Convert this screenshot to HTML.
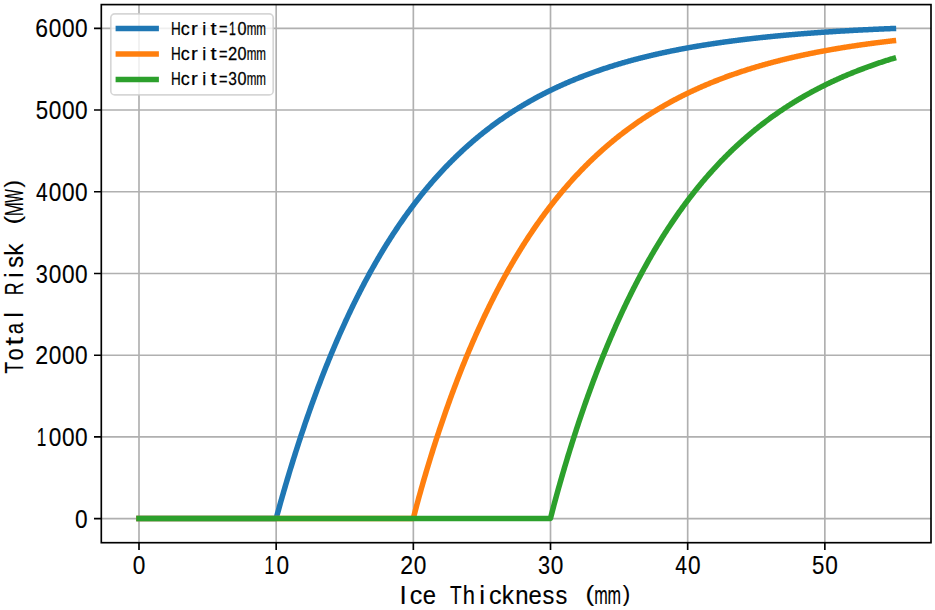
<!DOCTYPE html><html><head><meta charset="utf-8"><style>html,body{margin:0;padding:0;background:#fff;overflow:hidden;}svg{display:block;}text{font-family:"Liberation Sans",sans-serif;fill:#000;}</style></head><body>
<svg width="935" height="610" viewBox="0 0 935 610">
<rect width="935" height="610" fill="#fff"/>
<path d="M139.00 4.60V542.70M276.17 4.60V542.70M413.34 4.60V542.70M550.51 4.60V542.70M687.68 4.60V542.70M824.85 4.60V542.70M101.30 518.66H931.00M101.30 436.93H931.00M101.30 355.21H931.00M101.30 273.48H931.00M101.30 191.75H931.00M101.30 110.02H931.00M101.30 28.30H931.00" stroke="#b0b0b0" stroke-width="1.667" fill="none"/>
<polyline points="139.00,518.40 139.69,518.40 140.37,518.40 141.06,518.40 141.74,518.40 142.43,518.40 143.12,518.40 143.80,518.40 144.49,518.40 145.17,518.40 145.86,518.40 146.54,518.40 147.23,518.40 147.92,518.40 148.60,518.40 149.29,518.40 149.97,518.40 150.66,518.40 151.35,518.40 152.03,518.40 152.72,518.40 153.40,518.40 154.09,518.40 154.77,518.40 155.46,518.40 156.15,518.40 156.83,518.40 157.52,518.40 158.20,518.40 158.89,518.40 159.58,518.40 160.26,518.40 160.95,518.40 161.63,518.40 162.32,518.40 163.00,518.40 163.69,518.40 164.38,518.40 165.06,518.40 165.75,518.40 166.43,518.40 167.12,518.40 167.81,518.40 168.49,518.40 169.18,518.40 169.86,518.40 170.55,518.40 171.23,518.40 171.92,518.40 172.61,518.40 173.29,518.40 173.98,518.40 174.66,518.40 175.35,518.40 176.04,518.40 176.72,518.40 177.41,518.40 178.09,518.40 178.78,518.40 179.47,518.40 180.15,518.40 180.84,518.40 181.52,518.40 182.21,518.40 182.89,518.40 183.58,518.40 184.27,518.40 184.95,518.40 185.64,518.40 186.32,518.40 187.01,518.40 187.70,518.40 188.38,518.40 189.07,518.40 189.75,518.40 190.44,518.40 191.12,518.40 191.81,518.40 192.50,518.40 193.18,518.40 193.87,518.40 194.55,518.40 195.24,518.40 195.93,518.40 196.61,518.40 197.30,518.40 197.98,518.40 198.67,518.40 199.35,518.40 200.04,518.40 200.73,518.40 201.41,518.40 202.10,518.40 202.78,518.40 203.47,518.40 204.16,518.40 204.84,518.40 205.53,518.40 206.21,518.40 206.90,518.40 207.59,518.40 208.27,518.40 208.96,518.40 209.64,518.40 210.33,518.40 211.01,518.40 211.70,518.40 212.39,518.40 213.07,518.40 213.76,518.40 214.44,518.40 215.13,518.40 215.82,518.40 216.50,518.40 217.19,518.40 217.87,518.40 218.56,518.40 219.24,518.40 219.93,518.40 220.62,518.40 221.30,518.40 221.99,518.40 222.67,518.40 223.36,518.40 224.05,518.40 224.73,518.40 225.42,518.40 226.10,518.40 226.79,518.40 227.47,518.40 228.16,518.40 228.85,518.40 229.53,518.40 230.22,518.40 230.90,518.40 231.59,518.40 232.28,518.40 232.96,518.40 233.65,518.40 234.33,518.40 235.02,518.40 235.70,518.40 236.39,518.40 237.08,518.40 237.76,518.40 238.45,518.40 239.13,518.40 239.82,518.40 240.51,518.40 241.19,518.40 241.88,518.40 242.56,518.40 243.25,518.40 243.94,518.40 244.62,518.40 245.31,518.40 245.99,518.40 246.68,518.40 247.36,518.40 248.05,518.40 248.74,518.40 249.42,518.40 250.11,518.40 250.79,518.40 251.48,518.40 252.17,518.40 252.85,518.40 253.54,518.40 254.22,518.40 254.91,518.40 255.59,518.40 256.28,518.40 256.97,518.40 257.65,518.40 258.34,518.40 259.02,518.40 259.71,518.40 260.40,518.40 261.08,518.40 261.77,518.40 262.45,518.40 263.14,518.40 263.82,518.40 264.51,518.40 265.20,518.40 265.88,518.40 266.57,518.40 267.25,518.40 267.94,518.40 268.63,518.40 269.31,518.40 270.00,518.40 270.68,518.40 271.37,518.40 272.05,518.40 272.74,518.40 273.43,518.40 274.11,518.40 274.80,518.40 275.48,518.40 276.17,518.40 276.86,515.87 277.54,513.37 278.23,510.89 278.91,508.42 279.60,505.97 280.29,503.53 280.97,501.11 281.66,498.70 282.34,496.31 283.03,493.93 283.71,491.56 284.40,489.20 285.09,486.86 285.77,484.53 286.46,482.21 287.14,479.90 287.83,477.61 288.52,475.33 289.20,473.06 289.89,470.80 290.57,468.55 291.26,466.32 291.94,464.10 292.63,461.89 293.32,459.69 294.00,457.50 294.69,455.32 295.37,453.16 296.06,451.00 296.75,448.86 297.43,446.73 298.12,444.61 298.80,442.50 299.49,440.40 300.17,438.31 300.86,436.23 301.55,434.16 302.23,432.11 302.92,430.06 303.60,428.02 304.29,426.00 304.98,423.98 305.66,421.98 306.35,419.98 307.03,418.00 307.72,416.03 308.40,414.06 309.09,412.11 309.78,410.16 310.46,408.23 311.15,406.30 311.83,404.39 312.52,402.48 313.21,400.59 313.89,398.70 314.58,396.83 315.26,394.96 315.95,393.10 316.64,391.26 317.32,389.42 318.01,387.59 318.69,385.77 319.38,383.96 320.06,382.16 320.75,380.36 321.44,378.58 322.12,376.81 322.81,375.04 323.49,373.29 324.18,371.54 324.87,369.80 325.55,368.07 326.24,366.35 326.92,364.64 327.61,362.93 328.29,361.24 328.98,359.55 329.67,357.87 330.35,356.20 331.04,354.54 331.72,352.89 332.41,351.24 333.10,349.61 333.78,347.98 334.47,346.36 335.15,344.75 335.84,343.14 336.52,341.55 337.21,339.96 337.90,338.38 338.58,336.81 339.27,335.25 339.95,333.69 340.64,332.14 341.33,330.60 342.01,329.07 342.70,327.54 343.38,326.03 344.07,324.52 344.75,323.01 345.44,321.52 346.13,320.03 346.81,318.55 347.50,317.08 348.18,315.62 348.87,314.16 349.56,312.71 350.24,311.27 350.93,309.83 351.61,308.40 352.30,306.98 352.99,305.57 353.67,304.16 354.36,302.76 355.04,301.37 355.73,299.98 356.41,298.61 357.10,297.23 357.79,295.87 358.47,294.51 359.16,293.16 359.84,291.81 360.53,290.48 361.22,289.14 361.90,287.82 362.59,286.50 363.27,285.19 363.96,283.89 364.64,282.59 365.33,281.30 366.02,280.01 366.70,278.73 367.39,277.46 368.07,276.19 368.76,274.93 369.45,273.68 370.13,272.43 370.82,271.19 371.50,269.96 372.19,268.73 372.87,267.51 373.56,266.29 374.25,265.08 374.93,263.88 375.62,262.68 376.30,261.49 376.99,260.30 377.68,259.12 378.36,257.95 379.05,256.78 379.73,255.61 380.42,254.46 381.11,253.31 381.79,252.16 382.48,251.02 383.16,249.89 383.85,248.76 384.53,247.64 385.22,246.52 385.91,245.41 386.59,244.30 387.28,243.20 387.96,242.11 388.65,241.02 389.34,239.94 390.02,238.86 390.71,237.78 391.39,236.72 392.08,235.65 392.76,234.60 393.45,233.54 394.14,232.50 394.82,231.46 395.51,230.42 396.19,229.39 396.88,228.36 397.57,227.34 398.25,226.33 398.94,225.32 399.62,224.31 400.31,223.31 400.99,222.32 401.68,221.33 402.37,220.34 403.05,219.36 403.74,218.38 404.42,217.41 405.11,216.45 405.80,215.49 406.48,214.53 407.17,213.58 407.85,212.63 408.54,211.69 409.22,210.75 409.91,209.82 410.60,208.89 411.28,207.97 411.97,207.05 412.65,206.13 413.34,205.22 414.03,204.32 414.71,203.42 415.40,202.52 416.08,201.63 416.77,200.74 417.46,199.86 418.14,198.98 418.83,198.11 419.51,197.24 420.20,196.37 420.88,195.51 421.57,194.65 422.26,193.80 422.94,192.95 423.63,192.11 424.31,191.27 425.00,190.43 425.69,189.60 426.37,188.77 427.06,187.95 427.74,187.13 428.43,186.32 429.11,185.50 429.80,184.70 430.49,183.89 431.17,183.10 431.86,182.30 432.54,181.51 433.23,180.72 433.92,179.94 434.60,179.16 435.29,178.38 435.97,177.61 436.66,176.84 437.34,176.08 438.03,175.32 438.72,174.56 439.40,173.81 440.09,173.06 440.77,172.32 441.46,171.58 442.15,170.84 442.83,170.10 443.52,169.37 444.20,168.65 444.89,167.92 445.57,167.20 446.26,166.49 446.95,165.78 447.63,165.07 448.32,164.36 449.00,163.66 449.69,162.96 450.38,162.27 451.06,161.58 451.75,160.89 452.43,160.20 453.12,159.52 453.81,158.84 454.49,158.17 455.18,157.50 455.86,156.83 456.55,156.17 457.23,155.51 457.92,154.85 458.61,154.19 459.29,153.54 459.98,152.90 460.66,152.25 461.35,151.61 462.04,150.97 462.72,150.34 463.41,149.70 464.09,149.07 464.78,148.45 465.46,147.83 466.15,147.21 466.84,146.59 467.52,145.98 468.21,145.37 468.89,144.76 469.58,144.15 470.27,143.55 470.95,142.95 471.64,142.36 472.32,141.77 473.01,141.18 473.69,140.59 474.38,140.01 475.07,139.43 475.75,138.85 476.44,138.27 477.12,137.70 477.81,137.13 478.50,136.57 479.18,136.00 479.87,135.44 480.55,134.88 481.24,134.33 481.93,133.78 482.61,133.23 483.30,132.68 483.98,132.14 484.67,131.59 485.35,131.05 486.04,130.52 486.73,129.99 487.41,129.45 488.10,128.93 488.78,128.40 489.47,127.88 490.16,127.36 490.84,126.84 491.53,126.32 492.21,125.81 492.90,125.30 493.58,124.79 494.27,124.29 494.96,123.79 495.64,123.29 496.33,122.79 497.01,122.29 497.70,121.80 498.39,121.31 499.07,120.82 499.76,120.34 500.44,119.85 501.13,119.37 501.81,118.89 502.50,118.42 503.19,117.95 503.87,117.47 504.56,117.01 505.24,116.54 505.93,116.08 506.62,115.61 507.30,115.15 507.99,114.70 508.67,114.24 509.36,113.79 510.04,113.34 510.73,112.89 511.42,112.44 512.10,112.00 512.79,111.56 513.47,111.12 514.16,110.68 514.85,110.25 515.53,109.81 516.22,109.38 516.90,108.95 517.59,108.53 518.28,108.10 518.96,107.68 519.65,107.26 520.33,106.84 521.02,106.43 521.70,106.01 522.39,105.60 523.08,105.19 523.76,104.78 524.45,104.38 525.13,103.97 525.82,103.57 526.51,103.17 527.19,102.78 527.88,102.38 528.56,101.99 529.25,101.59 529.93,101.20 530.62,100.82 531.31,100.43 531.99,100.05 532.68,99.66 533.36,99.28 534.05,98.90 534.74,98.53 535.42,98.15 536.11,97.78 536.79,97.41 537.48,97.04 538.16,96.67 538.85,96.31 539.54,95.94 540.22,95.58 540.91,95.22 541.59,94.86 542.28,94.51 542.97,94.15 543.65,93.80 544.34,93.45 545.02,93.10 545.71,92.75 546.39,92.40 547.08,92.06 547.77,91.72 548.45,91.38 549.14,91.04 549.82,90.70 550.51,90.36 551.20,90.03 551.88,89.70 552.57,89.36 553.25,89.04 553.94,88.71 554.63,88.38 555.31,88.06 556.00,87.73 556.68,87.41 557.37,87.09 558.05,86.78 558.74,86.46 559.43,86.14 560.11,85.83 560.80,85.52 561.48,85.21 562.17,84.90 562.86,84.59 563.54,84.29 564.23,83.98 564.91,83.68 565.60,83.38 566.28,83.08 566.97,82.78 567.66,82.49 568.34,82.19 569.03,81.90 569.71,81.60 570.40,81.31 571.09,81.02 571.77,80.74 572.46,80.45 573.14,80.16 573.83,79.88 574.51,79.60 575.20,79.32 575.89,79.04 576.57,78.76 577.26,78.48 577.94,78.21 578.63,77.93 579.32,77.66 580.00,77.39 580.69,77.12 581.37,76.85 582.06,76.58 582.74,76.32 583.43,76.05 584.12,75.79 584.80,75.53 585.49,75.27 586.17,75.01 586.86,74.75 587.55,74.49 588.23,74.24 588.92,73.98 589.60,73.73 590.29,73.48 590.98,73.23 591.66,72.98 592.35,72.73 593.03,72.48 593.72,72.24 594.40,71.99 595.09,71.75 595.78,71.51 596.46,71.27 597.15,71.03 597.83,70.79 598.52,70.55 599.21,70.32 599.89,70.08 600.58,69.85 601.26,69.61 601.95,69.38 602.63,69.15 603.32,68.92 604.01,68.70 604.69,68.47 605.38,68.24 606.06,68.02 606.75,67.79 607.44,67.57 608.12,67.35 608.81,67.13 609.49,66.91 610.18,66.69 610.86,66.48 611.55,66.26 612.24,66.05 612.92,65.83 613.61,65.62 614.29,65.41 614.98,65.20 615.67,64.99 616.35,64.78 617.04,64.57 617.72,64.36 618.41,64.16 619.10,63.95 619.78,63.75 620.47,63.55 621.15,63.35 621.84,63.15 622.52,62.95 623.21,62.75 623.90,62.55 624.58,62.36 625.27,62.16 625.95,61.97 626.64,61.77 627.33,61.58 628.01,61.39 628.70,61.20 629.38,61.01 630.07,60.82 630.75,60.63 631.44,60.44 632.13,60.26 632.81,60.07 633.50,59.89 634.18,59.71 634.87,59.52 635.56,59.34 636.24,59.16 636.93,58.98 637.61,58.80 638.30,58.62 638.98,58.45 639.67,58.27 640.36,58.10 641.04,57.92 641.73,57.75 642.41,57.58 643.10,57.40 643.79,57.23 644.47,57.06 645.16,56.89 645.84,56.72 646.53,56.56 647.21,56.39 647.90,56.22 648.59,56.06 649.27,55.89 649.96,55.73 650.64,55.57 651.33,55.41 652.02,55.25 652.70,55.09 653.39,54.93 654.07,54.77 654.76,54.61 655.45,54.45 656.13,54.30 656.82,54.14 657.50,53.99 658.19,53.83 658.87,53.68 659.56,53.53 660.25,53.37 660.93,53.22 661.62,53.07 662.30,52.92 662.99,52.77 663.68,52.63 664.36,52.48 665.05,52.33 665.73,52.19 666.42,52.04 667.10,51.90 667.79,51.75 668.48,51.61 669.16,51.47 669.85,51.33 670.53,51.18 671.22,51.04 671.91,50.90 672.59,50.77 673.28,50.63 673.96,50.49 674.65,50.35 675.33,50.22 676.02,50.08 676.71,49.95 677.39,49.81 678.08,49.68 678.76,49.55 679.45,49.42 680.14,49.28 680.82,49.15 681.51,49.02 682.19,48.89 682.88,48.76 683.56,48.64 684.25,48.51 684.94,48.38 685.62,48.26 686.31,48.13 686.99,48.00 687.68,47.88 688.37,47.76 689.05,47.63 689.74,47.51 690.42,47.39 691.11,47.27 691.80,47.15 692.48,47.03 693.17,46.91 693.85,46.79 694.54,46.67 695.22,46.55 695.91,46.43 696.60,46.32 697.28,46.20 697.97,46.08 698.65,45.97 699.34,45.86 700.03,45.74 700.71,45.63 701.40,45.52 702.08,45.40 702.77,45.29 703.45,45.18 704.14,45.07 704.83,44.96 705.51,44.85 706.20,44.74 706.88,44.63 707.57,44.53 708.26,44.42 708.94,44.31 709.63,44.21 710.31,44.10 711.00,43.99 711.68,43.89 712.37,43.79 713.06,43.68 713.74,43.58 714.43,43.48 715.11,43.37 715.80,43.27 716.49,43.17 717.17,43.07 717.86,42.97 718.54,42.87 719.23,42.77 719.91,42.67 720.60,42.58 721.29,42.48 721.97,42.38 722.66,42.28 723.34,42.19 724.03,42.09 724.72,42.00 725.40,41.90 726.09,41.81 726.77,41.71 727.46,41.62 728.15,41.53 728.83,41.44 729.52,41.34 730.20,41.25 730.89,41.16 731.57,41.07 732.26,40.98 732.95,40.89 733.63,40.80 734.32,40.71 735.00,40.62 735.69,40.54 736.38,40.45 737.06,40.36 737.75,40.27 738.43,40.19 739.12,40.10 739.80,40.02 740.49,39.93 741.18,39.85 741.86,39.76 742.55,39.68 743.23,39.60 743.92,39.51 744.61,39.43 745.29,39.35 745.98,39.27 746.66,39.19 747.35,39.10 748.03,39.02 748.72,38.94 749.41,38.86 750.09,38.79 750.78,38.71 751.46,38.63 752.15,38.55 752.84,38.47 753.52,38.39 754.21,38.32 754.89,38.24 755.58,38.16 756.26,38.09 756.95,38.01 757.64,37.94 758.32,37.86 759.01,37.79 759.69,37.72 760.38,37.64 761.07,37.57 761.75,37.50 762.44,37.42 763.12,37.35 763.81,37.28 764.50,37.21 765.18,37.14 765.87,37.07 766.55,37.00 767.24,36.93 767.92,36.86 768.61,36.79 769.30,36.72 769.98,36.65 770.67,36.58 771.35,36.51 772.04,36.44 772.73,36.38 773.41,36.31 774.10,36.24 774.78,36.18 775.47,36.11 776.15,36.05 776.84,35.98 777.53,35.91 778.21,35.85 778.90,35.79 779.58,35.72 780.27,35.66 780.96,35.59 781.64,35.53 782.33,35.47 783.01,35.41 783.70,35.34 784.38,35.28 785.07,35.22 785.76,35.16 786.44,35.10 787.13,35.04 787.81,34.98 788.50,34.92 789.19,34.86 789.87,34.80 790.56,34.74 791.24,34.68 791.93,34.62 792.62,34.56 793.30,34.50 793.99,34.45 794.67,34.39 795.36,34.33 796.04,34.28 796.73,34.22 797.42,34.16 798.10,34.11 798.79,34.05 799.47,33.99 800.16,33.94 800.85,33.88 801.53,33.83 802.22,33.78 802.90,33.72 803.59,33.67 804.27,33.61 804.96,33.56 805.65,33.51 806.33,33.45 807.02,33.40 807.70,33.35 808.39,33.30 809.08,33.25 809.76,33.19 810.45,33.14 811.13,33.09 811.82,33.04 812.50,32.99 813.19,32.94 813.88,32.89 814.56,32.84 815.25,32.79 815.93,32.74 816.62,32.69 817.31,32.64 817.99,32.60 818.68,32.55 819.36,32.50 820.05,32.45 820.73,32.40 821.42,32.36 822.11,32.31 822.79,32.26 823.48,32.22 824.16,32.17 824.85,32.12 825.54,32.08 826.22,32.03 826.91,31.99 827.59,31.94 828.28,31.90 828.97,31.85 829.65,31.81 830.34,31.76 831.02,31.72 831.71,31.67 832.39,31.63 833.08,31.59 833.77,31.54 834.45,31.50 835.14,31.46 835.82,31.41 836.51,31.37 837.20,31.33 837.88,31.29 838.57,31.24 839.25,31.20 839.94,31.16 840.62,31.12 841.31,31.08 842.00,31.04 842.68,31.00 843.37,30.96 844.05,30.92 844.74,30.88 845.43,30.84 846.11,30.80 846.80,30.76 847.48,30.72 848.17,30.68 848.85,30.64 849.54,30.60 850.23,30.56 850.91,30.53 851.60,30.49 852.28,30.45 852.97,30.41 853.66,30.37 854.34,30.34 855.03,30.30 855.71,30.26 856.40,30.23 857.08,30.19 857.77,30.15 858.46,30.12 859.14,30.08 859.83,30.04 860.51,30.01 861.20,29.97 861.89,29.94 862.57,29.90 863.26,29.87 863.94,29.83 864.63,29.80 865.32,29.76 866.00,29.73 866.69,29.70 867.37,29.66 868.06,29.63 868.74,29.59 869.43,29.56 870.12,29.53 870.80,29.49 871.49,29.46 872.17,29.43 872.86,29.40 873.55,29.36 874.23,29.33 874.92,29.30 875.60,29.27 876.29,29.23 876.97,29.20 877.66,29.17 878.35,29.14 879.03,29.11 879.72,29.08 880.40,29.05 881.09,29.02 881.78,28.98 882.46,28.95 883.15,28.92 883.83,28.89 884.52,28.86 885.20,28.83 885.89,28.80 886.58,28.77 887.26,28.74 887.95,28.72 888.63,28.69 889.32,28.66 890.01,28.63 890.69,28.60 891.38,28.57 892.06,28.54 892.75,28.51 893.44,28.49" stroke="#1f77b4" stroke-width="5.5" fill="none" stroke-linecap="square" stroke-linejoin="round"/>
<polyline points="139.00,518.40 139.69,518.40 140.37,518.40 141.06,518.40 141.74,518.40 142.43,518.40 143.12,518.40 143.80,518.40 144.49,518.40 145.17,518.40 145.86,518.40 146.54,518.40 147.23,518.40 147.92,518.40 148.60,518.40 149.29,518.40 149.97,518.40 150.66,518.40 151.35,518.40 152.03,518.40 152.72,518.40 153.40,518.40 154.09,518.40 154.77,518.40 155.46,518.40 156.15,518.40 156.83,518.40 157.52,518.40 158.20,518.40 158.89,518.40 159.58,518.40 160.26,518.40 160.95,518.40 161.63,518.40 162.32,518.40 163.00,518.40 163.69,518.40 164.38,518.40 165.06,518.40 165.75,518.40 166.43,518.40 167.12,518.40 167.81,518.40 168.49,518.40 169.18,518.40 169.86,518.40 170.55,518.40 171.23,518.40 171.92,518.40 172.61,518.40 173.29,518.40 173.98,518.40 174.66,518.40 175.35,518.40 176.04,518.40 176.72,518.40 177.41,518.40 178.09,518.40 178.78,518.40 179.47,518.40 180.15,518.40 180.84,518.40 181.52,518.40 182.21,518.40 182.89,518.40 183.58,518.40 184.27,518.40 184.95,518.40 185.64,518.40 186.32,518.40 187.01,518.40 187.70,518.40 188.38,518.40 189.07,518.40 189.75,518.40 190.44,518.40 191.12,518.40 191.81,518.40 192.50,518.40 193.18,518.40 193.87,518.40 194.55,518.40 195.24,518.40 195.93,518.40 196.61,518.40 197.30,518.40 197.98,518.40 198.67,518.40 199.35,518.40 200.04,518.40 200.73,518.40 201.41,518.40 202.10,518.40 202.78,518.40 203.47,518.40 204.16,518.40 204.84,518.40 205.53,518.40 206.21,518.40 206.90,518.40 207.59,518.40 208.27,518.40 208.96,518.40 209.64,518.40 210.33,518.40 211.01,518.40 211.70,518.40 212.39,518.40 213.07,518.40 213.76,518.40 214.44,518.40 215.13,518.40 215.82,518.40 216.50,518.40 217.19,518.40 217.87,518.40 218.56,518.40 219.24,518.40 219.93,518.40 220.62,518.40 221.30,518.40 221.99,518.40 222.67,518.40 223.36,518.40 224.05,518.40 224.73,518.40 225.42,518.40 226.10,518.40 226.79,518.40 227.47,518.40 228.16,518.40 228.85,518.40 229.53,518.40 230.22,518.40 230.90,518.40 231.59,518.40 232.28,518.40 232.96,518.40 233.65,518.40 234.33,518.40 235.02,518.40 235.70,518.40 236.39,518.40 237.08,518.40 237.76,518.40 238.45,518.40 239.13,518.40 239.82,518.40 240.51,518.40 241.19,518.40 241.88,518.40 242.56,518.40 243.25,518.40 243.94,518.40 244.62,518.40 245.31,518.40 245.99,518.40 246.68,518.40 247.36,518.40 248.05,518.40 248.74,518.40 249.42,518.40 250.11,518.40 250.79,518.40 251.48,518.40 252.17,518.40 252.85,518.40 253.54,518.40 254.22,518.40 254.91,518.40 255.59,518.40 256.28,518.40 256.97,518.40 257.65,518.40 258.34,518.40 259.02,518.40 259.71,518.40 260.40,518.40 261.08,518.40 261.77,518.40 262.45,518.40 263.14,518.40 263.82,518.40 264.51,518.40 265.20,518.40 265.88,518.40 266.57,518.40 267.25,518.40 267.94,518.40 268.63,518.40 269.31,518.40 270.00,518.40 270.68,518.40 271.37,518.40 272.05,518.40 272.74,518.40 273.43,518.40 274.11,518.40 274.80,518.40 275.48,518.40 276.17,518.40 276.86,518.40 277.54,518.40 278.23,518.40 278.91,518.40 279.60,518.40 280.29,518.40 280.97,518.40 281.66,518.40 282.34,518.40 283.03,518.40 283.71,518.40 284.40,518.40 285.09,518.40 285.77,518.40 286.46,518.40 287.14,518.40 287.83,518.40 288.52,518.40 289.20,518.40 289.89,518.40 290.57,518.40 291.26,518.40 291.94,518.40 292.63,518.40 293.32,518.40 294.00,518.40 294.69,518.40 295.37,518.40 296.06,518.40 296.75,518.40 297.43,518.40 298.12,518.40 298.80,518.40 299.49,518.40 300.17,518.40 300.86,518.40 301.55,518.40 302.23,518.40 302.92,518.40 303.60,518.40 304.29,518.40 304.98,518.40 305.66,518.40 306.35,518.40 307.03,518.40 307.72,518.40 308.40,518.40 309.09,518.40 309.78,518.40 310.46,518.40 311.15,518.40 311.83,518.40 312.52,518.40 313.21,518.40 313.89,518.40 314.58,518.40 315.26,518.40 315.95,518.40 316.64,518.40 317.32,518.40 318.01,518.40 318.69,518.40 319.38,518.40 320.06,518.40 320.75,518.40 321.44,518.40 322.12,518.40 322.81,518.40 323.49,518.40 324.18,518.40 324.87,518.40 325.55,518.40 326.24,518.40 326.92,518.40 327.61,518.40 328.29,518.40 328.98,518.40 329.67,518.40 330.35,518.40 331.04,518.40 331.72,518.40 332.41,518.40 333.10,518.40 333.78,518.40 334.47,518.40 335.15,518.40 335.84,518.40 336.52,518.40 337.21,518.40 337.90,518.40 338.58,518.40 339.27,518.40 339.95,518.40 340.64,518.40 341.33,518.40 342.01,518.40 342.70,518.40 343.38,518.40 344.07,518.40 344.75,518.40 345.44,518.40 346.13,518.40 346.81,518.40 347.50,518.40 348.18,518.40 348.87,518.40 349.56,518.40 350.24,518.40 350.93,518.40 351.61,518.40 352.30,518.40 352.99,518.40 353.67,518.40 354.36,518.40 355.04,518.40 355.73,518.40 356.41,518.40 357.10,518.40 357.79,518.40 358.47,518.40 359.16,518.40 359.84,518.40 360.53,518.40 361.22,518.40 361.90,518.40 362.59,518.40 363.27,518.40 363.96,518.40 364.64,518.40 365.33,518.40 366.02,518.40 366.70,518.40 367.39,518.40 368.07,518.40 368.76,518.40 369.45,518.40 370.13,518.40 370.82,518.40 371.50,518.40 372.19,518.40 372.87,518.40 373.56,518.40 374.25,518.40 374.93,518.40 375.62,518.40 376.30,518.40 376.99,518.40 377.68,518.40 378.36,518.40 379.05,518.40 379.73,518.40 380.42,518.40 381.11,518.40 381.79,518.40 382.48,518.40 383.16,518.40 383.85,518.40 384.53,518.40 385.22,518.40 385.91,518.40 386.59,518.40 387.28,518.40 387.96,518.40 388.65,518.40 389.34,518.40 390.02,518.40 390.71,518.40 391.39,518.40 392.08,518.40 392.76,518.40 393.45,518.40 394.14,518.40 394.82,518.40 395.51,518.40 396.19,518.40 396.88,518.40 397.57,518.40 398.25,518.40 398.94,518.40 399.62,518.40 400.31,518.40 400.99,518.40 401.68,518.40 402.37,518.40 403.05,518.40 403.74,518.40 404.42,518.40 405.11,518.40 405.80,518.40 406.48,518.40 407.17,518.40 407.85,518.40 408.54,518.40 409.22,518.40 409.91,518.40 410.60,518.40 411.28,518.40 411.97,518.40 412.65,518.40 413.34,518.40 414.03,515.62 414.71,512.95 415.40,510.32 416.08,507.73 416.77,505.16 417.46,502.62 418.14,500.10 418.83,497.60 419.51,495.12 420.20,492.66 420.88,490.22 421.57,487.80 422.26,485.39 422.94,483.01 423.63,480.63 424.31,478.28 425.00,475.93 425.69,473.61 426.37,471.30 427.06,469.00 427.74,466.72 428.43,464.45 429.11,462.19 429.80,459.95 430.49,457.72 431.17,455.51 431.86,453.31 432.54,451.12 433.23,448.95 433.92,446.78 434.60,444.64 435.29,442.50 435.97,440.37 436.66,438.26 437.34,436.16 438.03,434.07 438.72,432.00 439.40,429.93 440.09,427.88 440.77,425.84 441.46,423.81 442.15,421.79 442.83,419.78 443.52,417.78 444.20,415.80 444.89,413.83 445.57,411.86 446.26,409.91 446.95,407.97 447.63,406.04 448.32,404.12 449.00,402.21 449.69,400.31 450.38,398.42 451.06,396.54 451.75,394.67 452.43,392.81 453.12,390.96 453.81,389.12 454.49,387.30 455.18,385.48 455.86,383.67 456.55,381.87 457.23,380.08 457.92,378.30 458.61,376.53 459.29,374.77 459.98,373.02 460.66,371.27 461.35,369.54 462.04,367.82 462.72,366.10 463.41,364.40 464.09,362.70 464.78,361.01 465.46,359.33 466.15,357.66 466.84,356.00 467.52,354.35 468.21,352.71 468.89,351.07 469.58,349.44 470.27,347.83 470.95,346.22 471.64,344.62 472.32,343.02 473.01,341.44 473.69,339.86 474.38,338.30 475.07,336.74 475.75,335.18 476.44,333.64 477.12,332.11 477.81,330.58 478.50,329.06 479.18,327.55 479.87,326.04 480.55,324.55 481.24,323.06 481.93,321.58 482.61,320.11 483.30,318.64 483.98,317.18 484.67,315.73 485.35,314.29 486.04,312.86 486.73,311.43 487.41,310.01 488.10,308.60 488.78,307.19 489.47,305.79 490.16,304.40 490.84,303.02 491.53,301.64 492.21,300.27 492.90,298.91 493.58,297.55 494.27,296.20 494.96,294.86 495.64,293.52 496.33,292.20 497.01,290.87 497.70,289.56 498.39,288.25 499.07,286.95 499.76,285.66 500.44,284.37 501.13,283.09 501.81,281.81 502.50,280.54 503.19,279.28 503.87,278.02 504.56,276.78 505.24,275.53 505.93,274.30 506.62,273.07 507.30,271.84 507.99,270.62 508.67,269.41 509.36,268.21 510.04,267.01 510.73,265.81 511.42,264.63 512.10,263.45 512.79,262.27 513.47,261.10 514.16,259.94 514.85,258.78 515.53,257.63 516.22,256.48 516.90,255.34 517.59,254.21 518.28,253.08 518.96,251.96 519.65,250.84 520.33,249.73 521.02,248.63 521.70,247.52 522.39,246.43 523.08,245.34 523.76,244.26 524.45,243.18 525.13,242.11 525.82,241.04 526.51,239.98 527.19,238.92 527.88,237.87 528.56,236.82 529.25,235.78 529.93,234.75 530.62,233.72 531.31,232.69 531.99,231.67 532.68,230.66 533.36,229.65 534.05,228.64 534.74,227.64 535.42,226.65 536.11,225.66 536.79,224.67 537.48,223.69 538.16,222.72 538.85,221.75 539.54,220.78 540.22,219.82 540.91,218.87 541.59,217.92 542.28,216.97 542.97,216.03 543.65,215.10 544.34,214.16 545.02,213.24 545.71,212.31 546.39,211.40 547.08,210.48 547.77,209.57 548.45,208.67 549.14,207.77 549.82,206.87 550.51,205.98 551.20,205.10 551.88,204.22 552.57,203.34 553.25,202.47 553.94,201.60 554.63,200.73 555.31,199.87 556.00,199.02 556.68,198.17 557.37,197.32 558.05,196.48 558.74,195.64 559.43,194.80 560.11,193.97 560.80,193.14 561.48,192.32 562.17,191.50 562.86,190.69 563.54,189.88 564.23,189.07 564.91,188.27 565.60,187.47 566.28,186.68 566.97,185.89 567.66,185.10 568.34,184.32 569.03,183.54 569.71,182.77 570.40,182.00 571.09,181.23 571.77,180.47 572.46,179.71 573.14,178.95 573.83,178.20 574.51,177.45 575.20,176.71 575.89,175.97 576.57,175.23 577.26,174.50 577.94,173.77 578.63,173.04 579.32,172.32 580.00,171.60 580.69,170.88 581.37,170.17 582.06,169.46 582.74,168.76 583.43,168.06 584.12,167.36 584.80,166.67 585.49,165.97 586.17,165.29 586.86,164.60 587.55,163.92 588.23,163.25 588.92,162.57 589.60,161.90 590.29,161.23 590.98,160.57 591.66,159.91 592.35,159.25 593.03,158.60 593.72,157.94 594.40,157.30 595.09,156.65 595.78,156.01 596.46,155.37 597.15,154.74 597.83,154.10 598.52,153.48 599.21,152.85 599.89,152.23 600.58,151.61 601.26,150.99 601.95,150.38 602.63,149.77 603.32,149.16 604.01,148.55 604.69,147.95 605.38,147.35 606.06,146.76 606.75,146.17 607.44,145.58 608.12,144.99 608.81,144.40 609.49,143.82 610.18,143.25 610.86,142.67 611.55,142.10 612.24,141.53 612.92,140.96 613.61,140.40 614.29,139.83 614.98,139.28 615.67,138.72 616.35,138.17 617.04,137.62 617.72,137.07 618.41,136.52 619.10,135.98 619.78,135.44 620.47,134.90 621.15,134.37 621.84,133.84 622.52,133.31 623.21,132.78 623.90,132.26 624.58,131.73 625.27,131.22 625.95,130.70 626.64,130.19 627.33,129.67 628.01,129.17 628.70,128.66 629.38,128.16 630.07,127.65 630.75,127.15 631.44,126.66 632.13,126.16 632.81,125.67 633.50,125.18 634.18,124.70 634.87,124.21 635.56,123.73 636.24,123.25 636.93,122.77 637.61,122.30 638.30,121.82 638.98,121.35 639.67,120.89 640.36,120.42 641.04,119.96 641.73,119.50 642.41,119.04 643.10,118.58 643.79,118.12 644.47,117.67 645.16,117.22 645.84,116.77 646.53,116.33 647.21,115.88 647.90,115.44 648.59,115.00 649.27,114.57 649.96,114.13 650.64,113.70 651.33,113.27 652.02,112.84 652.70,112.41 653.39,111.99 654.07,111.57 654.76,111.15 655.45,110.73 656.13,110.31 656.82,109.90 657.50,109.49 658.19,109.08 658.87,108.67 659.56,108.26 660.25,107.86 660.93,107.45 661.62,107.05 662.30,106.66 662.99,106.26 663.68,105.87 664.36,105.47 665.05,105.08 665.73,104.69 666.42,104.31 667.10,103.92 667.79,103.54 668.48,103.16 669.16,102.78 669.85,102.40 670.53,102.03 671.22,101.65 671.91,101.28 672.59,100.91 673.28,100.54 673.96,100.17 674.65,99.81 675.33,99.45 676.02,99.09 676.71,98.73 677.39,98.37 678.08,98.01 678.76,97.66 679.45,97.31 680.14,96.95 680.82,96.61 681.51,96.26 682.19,95.91 682.88,95.57 683.56,95.23 684.25,94.89 684.94,94.55 685.62,94.21 686.31,93.87 686.99,93.54 687.68,93.21 688.37,92.88 689.05,92.55 689.74,92.22 690.42,91.89 691.11,91.57 691.80,91.24 692.48,90.92 693.17,90.60 693.85,90.29 694.54,89.97 695.22,89.65 695.91,89.34 696.60,89.03 697.28,88.72 697.97,88.41 698.65,88.10 699.34,87.79 700.03,87.49 700.71,87.19 701.40,86.89 702.08,86.59 702.77,86.29 703.45,85.99 704.14,85.69 704.83,85.40 705.51,85.11 706.20,84.81 706.88,84.52 707.57,84.24 708.26,83.95 708.94,83.66 709.63,83.38 710.31,83.09 711.00,82.81 711.68,82.53 712.37,82.25 713.06,81.98 713.74,81.70 714.43,81.42 715.11,81.15 715.80,80.88 716.49,80.61 717.17,80.34 717.86,80.07 718.54,79.80 719.23,79.54 719.91,79.27 720.60,79.01 721.29,78.75 721.97,78.48 722.66,78.23 723.34,77.97 724.03,77.71 724.72,77.45 725.40,77.20 726.09,76.95 726.77,76.69 727.46,76.44 728.15,76.19 728.83,75.95 729.52,75.70 730.20,75.45 730.89,75.21 731.57,74.96 732.26,74.72 732.95,74.48 733.63,74.24 734.32,74.00 735.00,73.76 735.69,73.53 736.38,73.29 737.06,73.06 737.75,72.82 738.43,72.59 739.12,72.36 739.80,72.13 740.49,71.90 741.18,71.67 741.86,71.45 742.55,71.22 743.23,71.00 743.92,70.77 744.61,70.55 745.29,70.33 745.98,70.11 746.66,69.89 747.35,69.67 748.03,69.46 748.72,69.24 749.41,69.03 750.09,68.81 750.78,68.60 751.46,68.39 752.15,68.18 752.84,67.97 753.52,67.76 754.21,67.55 754.89,67.35 755.58,67.14 756.26,66.93 756.95,66.73 757.64,66.53 758.32,66.33 759.01,66.13 759.69,65.93 760.38,65.73 761.07,65.53 761.75,65.33 762.44,65.14 763.12,64.94 763.81,64.75 764.50,64.55 765.18,64.36 765.87,64.17 766.55,63.98 767.24,63.79 767.92,63.60 768.61,63.42 769.30,63.23 769.98,63.04 770.67,62.86 771.35,62.67 772.04,62.49 772.73,62.31 773.41,62.13 774.10,61.95 774.78,61.77 775.47,61.59 776.15,61.41 776.84,61.23 777.53,61.06 778.21,60.88 778.90,60.71 779.58,60.53 780.27,60.36 780.96,60.19 781.64,60.02 782.33,59.85 783.01,59.68 783.70,59.51 784.38,59.34 785.07,59.17 785.76,59.01 786.44,58.84 787.13,58.68 787.81,58.51 788.50,58.35 789.19,58.19 789.87,58.03 790.56,57.87 791.24,57.71 791.93,57.55 792.62,57.39 793.30,57.23 793.99,57.07 794.67,56.92 795.36,56.76 796.04,56.61 796.73,56.45 797.42,56.30 798.10,56.15 798.79,56.00 799.47,55.85 800.16,55.70 800.85,55.55 801.53,55.40 802.22,55.25 802.90,55.10 803.59,54.95 804.27,54.81 804.96,54.66 805.65,54.52 806.33,54.37 807.02,54.23 807.70,54.09 808.39,53.95 809.08,53.81 809.76,53.67 810.45,53.53 811.13,53.39 811.82,53.25 812.50,53.11 813.19,52.97 813.88,52.84 814.56,52.70 815.25,52.57 815.93,52.43 816.62,52.30 817.31,52.16 817.99,52.03 818.68,51.90 819.36,51.77 820.05,51.64 820.73,51.51 821.42,51.38 822.11,51.25 822.79,51.12 823.48,50.99 824.16,50.87 824.85,50.74 825.54,50.61 826.22,50.49 826.91,50.36 827.59,50.24 828.28,50.12 828.97,49.99 829.65,49.87 830.34,49.75 831.02,49.63 831.71,49.51 832.39,49.39 833.08,49.27 833.77,49.15 834.45,49.03 835.14,48.92 835.82,48.80 836.51,48.68 837.20,48.57 837.88,48.45 838.57,48.34 839.25,48.22 839.94,48.11 840.62,48.00 841.31,47.88 842.00,47.77 842.68,47.66 843.37,47.55 844.05,47.44 844.74,47.33 845.43,47.22 846.11,47.11 846.80,47.00 847.48,46.89 848.17,46.79 848.85,46.68 849.54,46.57 850.23,46.47 850.91,46.36 851.60,46.26 852.28,46.15 852.97,46.05 853.66,45.95 854.34,45.84 855.03,45.74 855.71,45.64 856.40,45.54 857.08,45.44 857.77,45.34 858.46,45.24 859.14,45.14 859.83,45.04 860.51,44.94 861.20,44.84 861.89,44.75 862.57,44.65 863.26,44.55 863.94,44.46 864.63,44.36 865.32,44.26 866.00,44.17 866.69,44.08 867.37,43.98 868.06,43.89 868.74,43.80 869.43,43.70 870.12,43.61 870.80,43.52 871.49,43.43 872.17,43.34 872.86,43.25 873.55,43.16 874.23,43.07 874.92,42.98 875.60,42.89 876.29,42.80 876.97,42.71 877.66,42.63 878.35,42.54 879.03,42.45 879.72,42.37 880.40,42.28 881.09,42.20 881.78,42.11 882.46,42.03 883.15,41.94 883.83,41.86 884.52,41.78 885.20,41.69 885.89,41.61 886.58,41.53 887.26,41.45 887.95,41.37 888.63,41.29 889.32,41.21 890.01,41.13 890.69,41.05 891.38,40.97 892.06,40.89 892.75,40.81 893.44,40.73" stroke="#ff7f0e" stroke-width="5.5" fill="none" stroke-linecap="square" stroke-linejoin="round"/>
<polyline points="139.00,518.40 139.69,518.40 140.37,518.40 141.06,518.40 141.74,518.40 142.43,518.40 143.12,518.40 143.80,518.40 144.49,518.40 145.17,518.40 145.86,518.40 146.54,518.40 147.23,518.40 147.92,518.40 148.60,518.40 149.29,518.40 149.97,518.40 150.66,518.40 151.35,518.40 152.03,518.40 152.72,518.40 153.40,518.40 154.09,518.40 154.77,518.40 155.46,518.40 156.15,518.40 156.83,518.40 157.52,518.40 158.20,518.40 158.89,518.40 159.58,518.40 160.26,518.40 160.95,518.40 161.63,518.40 162.32,518.40 163.00,518.40 163.69,518.40 164.38,518.40 165.06,518.40 165.75,518.40 166.43,518.40 167.12,518.40 167.81,518.40 168.49,518.40 169.18,518.40 169.86,518.40 170.55,518.40 171.23,518.40 171.92,518.40 172.61,518.40 173.29,518.40 173.98,518.40 174.66,518.40 175.35,518.40 176.04,518.40 176.72,518.40 177.41,518.40 178.09,518.40 178.78,518.40 179.47,518.40 180.15,518.40 180.84,518.40 181.52,518.40 182.21,518.40 182.89,518.40 183.58,518.40 184.27,518.40 184.95,518.40 185.64,518.40 186.32,518.40 187.01,518.40 187.70,518.40 188.38,518.40 189.07,518.40 189.75,518.40 190.44,518.40 191.12,518.40 191.81,518.40 192.50,518.40 193.18,518.40 193.87,518.40 194.55,518.40 195.24,518.40 195.93,518.40 196.61,518.40 197.30,518.40 197.98,518.40 198.67,518.40 199.35,518.40 200.04,518.40 200.73,518.40 201.41,518.40 202.10,518.40 202.78,518.40 203.47,518.40 204.16,518.40 204.84,518.40 205.53,518.40 206.21,518.40 206.90,518.40 207.59,518.40 208.27,518.40 208.96,518.40 209.64,518.40 210.33,518.40 211.01,518.40 211.70,518.40 212.39,518.40 213.07,518.40 213.76,518.40 214.44,518.40 215.13,518.40 215.82,518.40 216.50,518.40 217.19,518.40 217.87,518.40 218.56,518.40 219.24,518.40 219.93,518.40 220.62,518.40 221.30,518.40 221.99,518.40 222.67,518.40 223.36,518.40 224.05,518.40 224.73,518.40 225.42,518.40 226.10,518.40 226.79,518.40 227.47,518.40 228.16,518.40 228.85,518.40 229.53,518.40 230.22,518.40 230.90,518.40 231.59,518.40 232.28,518.40 232.96,518.40 233.65,518.40 234.33,518.40 235.02,518.40 235.70,518.40 236.39,518.40 237.08,518.40 237.76,518.40 238.45,518.40 239.13,518.40 239.82,518.40 240.51,518.40 241.19,518.40 241.88,518.40 242.56,518.40 243.25,518.40 243.94,518.40 244.62,518.40 245.31,518.40 245.99,518.40 246.68,518.40 247.36,518.40 248.05,518.40 248.74,518.40 249.42,518.40 250.11,518.40 250.79,518.40 251.48,518.40 252.17,518.40 252.85,518.40 253.54,518.40 254.22,518.40 254.91,518.40 255.59,518.40 256.28,518.40 256.97,518.40 257.65,518.40 258.34,518.40 259.02,518.40 259.71,518.40 260.40,518.40 261.08,518.40 261.77,518.40 262.45,518.40 263.14,518.40 263.82,518.40 264.51,518.40 265.20,518.40 265.88,518.40 266.57,518.40 267.25,518.40 267.94,518.40 268.63,518.40 269.31,518.40 270.00,518.40 270.68,518.40 271.37,518.40 272.05,518.40 272.74,518.40 273.43,518.40 274.11,518.40 274.80,518.40 275.48,518.40 276.17,518.40 276.86,518.40 277.54,518.40 278.23,518.40 278.91,518.40 279.60,518.40 280.29,518.40 280.97,518.40 281.66,518.40 282.34,518.40 283.03,518.40 283.71,518.40 284.40,518.40 285.09,518.40 285.77,518.40 286.46,518.40 287.14,518.40 287.83,518.40 288.52,518.40 289.20,518.40 289.89,518.40 290.57,518.40 291.26,518.40 291.94,518.40 292.63,518.40 293.32,518.40 294.00,518.40 294.69,518.40 295.37,518.40 296.06,518.40 296.75,518.40 297.43,518.40 298.12,518.40 298.80,518.40 299.49,518.40 300.17,518.40 300.86,518.40 301.55,518.40 302.23,518.40 302.92,518.40 303.60,518.40 304.29,518.40 304.98,518.40 305.66,518.40 306.35,518.40 307.03,518.40 307.72,518.40 308.40,518.40 309.09,518.40 309.78,518.40 310.46,518.40 311.15,518.40 311.83,518.40 312.52,518.40 313.21,518.40 313.89,518.40 314.58,518.40 315.26,518.40 315.95,518.40 316.64,518.40 317.32,518.40 318.01,518.40 318.69,518.40 319.38,518.40 320.06,518.40 320.75,518.40 321.44,518.40 322.12,518.40 322.81,518.40 323.49,518.40 324.18,518.40 324.87,518.40 325.55,518.40 326.24,518.40 326.92,518.40 327.61,518.40 328.29,518.40 328.98,518.40 329.67,518.40 330.35,518.40 331.04,518.40 331.72,518.40 332.41,518.40 333.10,518.40 333.78,518.40 334.47,518.40 335.15,518.40 335.84,518.40 336.52,518.40 337.21,518.40 337.90,518.40 338.58,518.40 339.27,518.40 339.95,518.40 340.64,518.40 341.33,518.40 342.01,518.40 342.70,518.40 343.38,518.40 344.07,518.40 344.75,518.40 345.44,518.40 346.13,518.40 346.81,518.40 347.50,518.40 348.18,518.40 348.87,518.40 349.56,518.40 350.24,518.40 350.93,518.40 351.61,518.40 352.30,518.40 352.99,518.40 353.67,518.40 354.36,518.40 355.04,518.40 355.73,518.40 356.41,518.40 357.10,518.40 357.79,518.40 358.47,518.40 359.16,518.40 359.84,518.40 360.53,518.40 361.22,518.40 361.90,518.40 362.59,518.40 363.27,518.40 363.96,518.40 364.64,518.40 365.33,518.40 366.02,518.40 366.70,518.40 367.39,518.40 368.07,518.40 368.76,518.40 369.45,518.40 370.13,518.40 370.82,518.40 371.50,518.40 372.19,518.40 372.87,518.40 373.56,518.40 374.25,518.40 374.93,518.40 375.62,518.40 376.30,518.40 376.99,518.40 377.68,518.40 378.36,518.40 379.05,518.40 379.73,518.40 380.42,518.40 381.11,518.40 381.79,518.40 382.48,518.40 383.16,518.40 383.85,518.40 384.53,518.40 385.22,518.40 385.91,518.40 386.59,518.40 387.28,518.40 387.96,518.40 388.65,518.40 389.34,518.40 390.02,518.40 390.71,518.40 391.39,518.40 392.08,518.40 392.76,518.40 393.45,518.40 394.14,518.40 394.82,518.40 395.51,518.40 396.19,518.40 396.88,518.40 397.57,518.40 398.25,518.40 398.94,518.40 399.62,518.40 400.31,518.40 400.99,518.40 401.68,518.40 402.37,518.40 403.05,518.40 403.74,518.40 404.42,518.40 405.11,518.40 405.80,518.40 406.48,518.40 407.17,518.40 407.85,518.40 408.54,518.40 409.22,518.40 409.91,518.40 410.60,518.40 411.28,518.40 411.97,518.40 412.65,518.40 413.34,518.40 414.03,518.40 414.71,518.40 415.40,518.40 416.08,518.40 416.77,518.40 417.46,518.40 418.14,518.40 418.83,518.40 419.51,518.40 420.20,518.40 420.88,518.40 421.57,518.40 422.26,518.40 422.94,518.40 423.63,518.40 424.31,518.40 425.00,518.40 425.69,518.40 426.37,518.40 427.06,518.40 427.74,518.40 428.43,518.40 429.11,518.40 429.80,518.40 430.49,518.40 431.17,518.40 431.86,518.40 432.54,518.40 433.23,518.40 433.92,518.40 434.60,518.40 435.29,518.40 435.97,518.40 436.66,518.40 437.34,518.40 438.03,518.40 438.72,518.40 439.40,518.40 440.09,518.40 440.77,518.40 441.46,518.40 442.15,518.40 442.83,518.40 443.52,518.40 444.20,518.40 444.89,518.40 445.57,518.40 446.26,518.40 446.95,518.40 447.63,518.40 448.32,518.40 449.00,518.40 449.69,518.40 450.38,518.40 451.06,518.40 451.75,518.40 452.43,518.40 453.12,518.40 453.81,518.40 454.49,518.40 455.18,518.40 455.86,518.40 456.55,518.40 457.23,518.40 457.92,518.40 458.61,518.40 459.29,518.40 459.98,518.40 460.66,518.40 461.35,518.40 462.04,518.40 462.72,518.40 463.41,518.40 464.09,518.40 464.78,518.40 465.46,518.40 466.15,518.40 466.84,518.40 467.52,518.40 468.21,518.40 468.89,518.40 469.58,518.40 470.27,518.40 470.95,518.40 471.64,518.40 472.32,518.40 473.01,518.40 473.69,518.40 474.38,518.40 475.07,518.40 475.75,518.40 476.44,518.40 477.12,518.40 477.81,518.40 478.50,518.40 479.18,518.40 479.87,518.40 480.55,518.40 481.24,518.40 481.93,518.40 482.61,518.40 483.30,518.40 483.98,518.40 484.67,518.40 485.35,518.40 486.04,518.40 486.73,518.40 487.41,518.40 488.10,518.40 488.78,518.40 489.47,518.40 490.16,518.40 490.84,518.40 491.53,518.40 492.21,518.40 492.90,518.40 493.58,518.40 494.27,518.40 494.96,518.40 495.64,518.40 496.33,518.40 497.01,518.40 497.70,518.40 498.39,518.40 499.07,518.40 499.76,518.40 500.44,518.40 501.13,518.40 501.81,518.40 502.50,518.40 503.19,518.40 503.87,518.40 504.56,518.40 505.24,518.40 505.93,518.40 506.62,518.40 507.30,518.40 507.99,518.40 508.67,518.40 509.36,518.40 510.04,518.40 510.73,518.40 511.42,518.40 512.10,518.40 512.79,518.40 513.47,518.40 514.16,518.40 514.85,518.40 515.53,518.40 516.22,518.40 516.90,518.40 517.59,518.40 518.28,518.40 518.96,518.40 519.65,518.40 520.33,518.40 521.02,518.40 521.70,518.40 522.39,518.40 523.08,518.40 523.76,518.40 524.45,518.40 525.13,518.40 525.82,518.40 526.51,518.40 527.19,518.40 527.88,518.40 528.56,518.40 529.25,518.40 529.93,518.40 530.62,518.40 531.31,518.40 531.99,518.40 532.68,518.40 533.36,518.40 534.05,518.40 534.74,518.40 535.42,518.40 536.11,518.40 536.79,518.40 537.48,518.40 538.16,518.40 538.85,518.40 539.54,518.40 540.22,518.40 540.91,518.40 541.59,518.40 542.28,518.40 542.97,518.40 543.65,518.40 544.34,518.40 545.02,518.40 545.71,518.40 546.39,518.40 547.08,518.40 547.77,518.40 548.45,518.40 549.14,518.40 549.82,518.40 550.51,518.40 551.20,515.64 551.88,512.96 552.57,510.32 553.25,507.71 553.94,505.13 554.63,502.57 555.31,500.03 556.00,497.51 556.68,495.01 557.37,492.53 558.05,490.07 558.74,487.62 559.43,485.19 560.11,482.77 560.80,480.37 561.48,477.99 562.17,475.62 562.86,473.26 563.54,470.92 564.23,468.60 564.91,466.28 565.60,463.98 566.28,461.70 566.97,459.43 567.66,457.17 568.34,454.92 569.03,452.69 569.71,450.47 570.40,448.27 571.09,446.07 571.77,443.89 572.46,441.72 573.14,439.56 573.83,437.42 574.51,435.29 575.20,433.17 575.89,431.06 576.57,428.96 577.26,426.87 577.94,424.80 578.63,422.73 579.32,420.68 580.00,418.64 580.69,416.61 581.37,414.59 582.06,412.59 582.74,410.59 583.43,408.60 584.12,406.63 584.80,404.66 585.49,402.71 586.17,400.77 586.86,398.83 587.55,396.91 588.23,395.00 588.92,393.10 589.60,391.21 590.29,389.32 590.98,387.45 591.66,385.59 592.35,383.74 593.03,381.90 593.72,380.06 594.40,378.24 595.09,376.43 595.78,374.62 596.46,372.83 597.15,371.04 597.83,369.27 598.52,367.50 599.21,365.75 599.89,364.00 600.58,362.26 601.26,360.53 601.95,358.81 602.63,357.10 603.32,355.40 604.01,353.70 604.69,352.02 605.38,350.34 606.06,348.68 606.75,347.02 607.44,345.37 608.12,343.73 608.81,342.09 609.49,340.47 610.18,338.85 610.86,337.25 611.55,335.65 612.24,334.06 612.92,332.47 613.61,330.90 614.29,329.33 614.98,327.78 615.67,326.23 616.35,324.68 617.04,323.15 617.72,321.62 618.41,320.10 619.10,318.59 619.78,317.09 620.47,315.59 621.15,314.11 621.84,312.63 622.52,311.15 623.21,309.69 623.90,308.23 624.58,306.78 625.27,305.34 625.95,303.90 626.64,302.48 627.33,301.06 628.01,299.64 628.70,298.24 629.38,296.84 630.07,295.45 630.75,294.06 631.44,292.68 632.13,291.31 632.81,289.95 633.50,288.59 634.18,287.24 634.87,285.90 635.56,284.57 636.24,283.24 636.93,281.91 637.61,280.60 638.30,279.29 638.98,277.99 639.67,276.69 640.36,275.40 641.04,274.12 641.73,272.84 642.41,271.57 643.10,270.31 643.79,269.05 644.47,267.80 645.16,266.56 645.84,265.32 646.53,264.09 647.21,262.86 647.90,261.64 648.59,260.43 649.27,259.22 649.96,258.02 650.64,256.83 651.33,255.64 652.02,254.46 652.70,253.28 653.39,252.11 654.07,250.94 654.76,249.78 655.45,248.63 656.13,247.48 656.82,246.34 657.50,245.20 658.19,244.07 658.87,242.95 659.56,241.83 660.25,240.72 660.93,239.61 661.62,238.51 662.30,237.41 662.99,236.32 663.68,235.23 664.36,234.15 665.05,233.08 665.73,232.01 666.42,230.95 667.10,229.89 667.79,228.83 668.48,227.79 669.16,226.74 669.85,225.71 670.53,224.67 671.22,223.65 671.91,222.62 672.59,221.61 673.28,220.60 673.96,219.59 674.65,218.59 675.33,217.59 676.02,216.60 676.71,215.61 677.39,214.63 678.08,213.65 678.76,212.68 679.45,211.71 680.14,210.75 680.82,209.79 681.51,208.84 682.19,207.89 682.88,206.95 683.56,206.01 684.25,205.08 684.94,204.15 685.62,203.22 686.31,202.30 686.99,201.39 687.68,200.48 688.37,199.57 689.05,198.67 689.74,197.77 690.42,196.88 691.11,195.99 691.80,195.11 692.48,194.23 693.17,193.35 693.85,192.48 694.54,191.61 695.22,190.75 695.91,189.89 696.60,189.04 697.28,188.19 697.97,187.34 698.65,186.50 699.34,185.67 700.03,184.83 700.71,184.01 701.40,183.18 702.08,182.36 702.77,181.54 703.45,180.73 704.14,179.92 704.83,179.12 705.51,178.32 706.20,177.52 706.88,176.73 707.57,175.94 708.26,175.16 708.94,174.38 709.63,173.60 710.31,172.83 711.00,172.06 711.68,171.30 712.37,170.53 713.06,169.78 713.74,169.02 714.43,168.27 715.11,167.53 715.80,166.78 716.49,166.04 717.17,165.31 717.86,164.58 718.54,163.85 719.23,163.12 719.91,162.40 720.60,161.69 721.29,160.97 721.97,160.26 722.66,159.56 723.34,158.85 724.03,158.15 724.72,157.46 725.40,156.76 726.09,156.07 726.77,155.39 727.46,154.71 728.15,154.03 728.83,153.35 729.52,152.68 730.20,152.01 730.89,151.34 731.57,150.68 732.26,150.02 732.95,149.36 733.63,148.71 734.32,148.06 735.00,147.42 735.69,146.77 736.38,146.13 737.06,145.49 737.75,144.86 738.43,144.23 739.12,143.60 739.80,142.98 740.49,142.36 741.18,141.74 741.86,141.12 742.55,140.51 743.23,139.90 743.92,139.30 744.61,138.69 745.29,138.09 745.98,137.49 746.66,136.90 747.35,136.31 748.03,135.72 748.72,135.13 749.41,134.55 750.09,133.97 750.78,133.39 751.46,132.82 752.15,132.25 752.84,131.68 753.52,131.11 754.21,130.55 754.89,129.99 755.58,129.43 756.26,128.88 756.95,128.33 757.64,127.78 758.32,127.23 759.01,126.69 759.69,126.15 760.38,125.61 761.07,125.07 761.75,124.54 762.44,124.01 763.12,123.48 763.81,122.95 764.50,122.43 765.18,121.91 765.87,121.39 766.55,120.88 767.24,120.37 767.92,119.86 768.61,119.35 769.30,118.84 769.98,118.34 770.67,117.84 771.35,117.34 772.04,116.85 772.73,116.35 773.41,115.86 774.10,115.38 774.78,114.89 775.47,114.41 776.15,113.93 776.84,113.45 777.53,112.97 778.21,112.50 778.90,112.03 779.58,111.56 780.27,111.09 780.96,110.62 781.64,110.16 782.33,109.70 783.01,109.24 783.70,108.79 784.38,108.33 785.07,107.88 785.76,107.43 786.44,106.99 787.13,106.54 787.81,106.10 788.50,105.66 789.19,105.22 789.87,104.79 790.56,104.35 791.24,103.92 791.93,103.49 792.62,103.06 793.30,102.64 793.99,102.22 794.67,101.79 795.36,101.38 796.04,100.96 796.73,100.54 797.42,100.13 798.10,99.72 798.79,99.31 799.47,98.90 800.16,98.50 800.85,98.09 801.53,97.69 802.22,97.29 802.90,96.90 803.59,96.50 804.27,96.11 804.96,95.72 805.65,95.33 806.33,94.94 807.02,94.55 807.70,94.17 808.39,93.79 809.08,93.41 809.76,93.03 810.45,92.65 811.13,92.28 811.82,91.91 812.50,91.54 813.19,91.17 813.88,90.80 814.56,90.44 815.25,90.07 815.93,89.71 816.62,89.35 817.31,88.99 817.99,88.63 818.68,88.28 819.36,87.93 820.05,87.58 820.73,87.23 821.42,86.88 822.11,86.53 822.79,86.19 823.48,85.84 824.16,85.50 824.85,85.16 825.54,84.82 826.22,84.49 826.91,84.15 827.59,83.82 828.28,83.49 828.97,83.16 829.65,82.83 830.34,82.51 831.02,82.18 831.71,81.86 832.39,81.53 833.08,81.21 833.77,80.90 834.45,80.58 835.14,80.26 835.82,79.95 836.51,79.64 837.20,79.33 837.88,79.02 838.57,78.71 839.25,78.40 839.94,78.10 840.62,77.79 841.31,77.49 842.00,77.19 842.68,76.89 843.37,76.59 844.05,76.30 844.74,76.00 845.43,75.71 846.11,75.42 846.80,75.13 847.48,74.84 848.17,74.55 848.85,74.26 849.54,73.98 850.23,73.70 850.91,73.41 851.60,73.13 852.28,72.85 852.97,72.58 853.66,72.30 854.34,72.02 855.03,71.75 855.71,71.48 856.40,71.21 857.08,70.94 857.77,70.67 858.46,70.40 859.14,70.13 859.83,69.87 860.51,69.61 861.20,69.34 861.89,69.08 862.57,68.82 863.26,68.56 863.94,68.31 864.63,68.05 865.32,67.80 866.00,67.54 866.69,67.29 867.37,67.04 868.06,66.79 868.74,66.54 869.43,66.29 870.12,66.05 870.80,65.80 871.49,65.56 872.17,65.32 872.86,65.08 873.55,64.84 874.23,64.60 874.92,64.36 875.60,64.12 876.29,63.89 876.97,63.65 877.66,63.42 878.35,63.19 879.03,62.96 879.72,62.73 880.40,62.50 881.09,62.27 881.78,62.04 882.46,61.82 883.15,61.59 883.83,61.37 884.52,61.15 885.20,60.93 885.89,60.71 886.58,60.49 887.26,60.27 887.95,60.05 888.63,59.84 889.32,59.62 890.01,59.41 890.69,59.20 891.38,58.98 892.06,58.77 892.75,58.56 893.44,58.36" stroke="#2ca02c" stroke-width="5.5" fill="none" stroke-linecap="square" stroke-linejoin="round"/>
<rect x="101.30" y="4.60" width="829.70" height="538.10" fill="none" stroke="#000" stroke-width="1.667" stroke-linejoin="miter"/>
<path d="M139.00 542.70v7.3M276.17 542.70v7.3M413.34 542.70v7.3M550.51 542.70v7.3M687.68 542.70v7.3M824.85 542.70v7.3M101.30 518.66h-7.3M101.30 436.93h-7.3M101.30 355.21h-7.3M101.30 273.48h-7.3M101.30 191.75h-7.3M101.30 110.02h-7.3M101.30 28.30h-7.3" stroke="#000" stroke-width="1.667" fill="none"/>
<text x="0" y="0" font-size="26.5" stroke="#000" stroke-width="0.15" transform="translate(132.70,573.90) scale(0.855,1.0)">0</text>
<text x="0" y="0" font-size="26.5" stroke="#000" stroke-width="0.15" transform="translate(264.57,573.90) scale(0.647,1.0)">1</text><text x="0" y="0" font-size="26.5" stroke="#000" stroke-width="0.15" transform="translate(276.47,573.90) scale(0.855,1.0)">0</text>
<text x="0" y="0" font-size="26.5" stroke="#000" stroke-width="0.15" transform="translate(400.30,573.90) scale(0.874,1.0)">2</text><text x="0" y="0" font-size="26.5" stroke="#000" stroke-width="0.15" transform="translate(413.64,573.90) scale(0.855,1.0)">0</text>
<text x="0" y="0" font-size="26.5" stroke="#000" stroke-width="0.15" transform="translate(537.94,573.90) scale(0.820,1.0)">3</text><text x="0" y="0" font-size="26.5" stroke="#000" stroke-width="0.15" transform="translate(550.81,573.90) scale(0.855,1.0)">0</text>
<text x="0" y="0" font-size="26.5" stroke="#000" stroke-width="0.15" transform="translate(675.32,573.90) scale(0.791,1.0)">4</text><text x="0" y="0" font-size="26.5" stroke="#000" stroke-width="0.15" transform="translate(687.98,573.90) scale(0.855,1.0)">0</text>
<text x="0" y="0" font-size="26.5" stroke="#000" stroke-width="0.15" transform="translate(812.08,573.90) scale(0.841,1.0)">5</text><text x="0" y="0" font-size="26.5" stroke="#000" stroke-width="0.15" transform="translate(825.15,573.90) scale(0.855,1.0)">0</text>
<text x="0" y="0" font-size="26.5" stroke="#000" stroke-width="0.15" transform="translate(75.10,527.76) scale(0.855,1.0)">0</text>
<text x="0" y="0" font-size="26.5" stroke="#000" stroke-width="0.15" transform="translate(36.80,446.03) scale(0.647,1.0)">1</text><text x="0" y="0" font-size="26.5" stroke="#000" stroke-width="0.15" transform="translate(48.70,446.03) scale(0.855,1.0)">0</text><text x="0" y="0" font-size="26.5" stroke="#000" stroke-width="0.15" transform="translate(61.90,446.03) scale(0.855,1.0)">0</text><text x="0" y="0" font-size="26.5" stroke="#000" stroke-width="0.15" transform="translate(75.10,446.03) scale(0.855,1.0)">0</text>
<text x="0" y="0" font-size="26.5" stroke="#000" stroke-width="0.15" transform="translate(35.36,364.31) scale(0.874,1.0)">2</text><text x="0" y="0" font-size="26.5" stroke="#000" stroke-width="0.15" transform="translate(48.70,364.31) scale(0.855,1.0)">0</text><text x="0" y="0" font-size="26.5" stroke="#000" stroke-width="0.15" transform="translate(61.90,364.31) scale(0.855,1.0)">0</text><text x="0" y="0" font-size="26.5" stroke="#000" stroke-width="0.15" transform="translate(75.10,364.31) scale(0.855,1.0)">0</text>
<text x="0" y="0" font-size="26.5" stroke="#000" stroke-width="0.15" transform="translate(35.83,282.58) scale(0.820,1.0)">3</text><text x="0" y="0" font-size="26.5" stroke="#000" stroke-width="0.15" transform="translate(48.70,282.58) scale(0.855,1.0)">0</text><text x="0" y="0" font-size="26.5" stroke="#000" stroke-width="0.15" transform="translate(61.90,282.58) scale(0.855,1.0)">0</text><text x="0" y="0" font-size="26.5" stroke="#000" stroke-width="0.15" transform="translate(75.10,282.58) scale(0.855,1.0)">0</text>
<text x="0" y="0" font-size="26.5" stroke="#000" stroke-width="0.15" transform="translate(36.04,200.85) scale(0.791,1.0)">4</text><text x="0" y="0" font-size="26.5" stroke="#000" stroke-width="0.15" transform="translate(48.70,200.85) scale(0.855,1.0)">0</text><text x="0" y="0" font-size="26.5" stroke="#000" stroke-width="0.15" transform="translate(61.90,200.85) scale(0.855,1.0)">0</text><text x="0" y="0" font-size="26.5" stroke="#000" stroke-width="0.15" transform="translate(75.10,200.85) scale(0.855,1.0)">0</text>
<text x="0" y="0" font-size="26.5" stroke="#000" stroke-width="0.15" transform="translate(35.63,119.12) scale(0.841,1.0)">5</text><text x="0" y="0" font-size="26.5" stroke="#000" stroke-width="0.15" transform="translate(48.70,119.12) scale(0.855,1.0)">0</text><text x="0" y="0" font-size="26.5" stroke="#000" stroke-width="0.15" transform="translate(61.90,119.12) scale(0.855,1.0)">0</text><text x="0" y="0" font-size="26.5" stroke="#000" stroke-width="0.15" transform="translate(75.10,119.12) scale(0.855,1.0)">0</text>
<text x="0" y="0" font-size="26.5" stroke="#000" stroke-width="0.15" transform="translate(35.35,37.40) scale(0.864,1.0)">6</text><text x="0" y="0" font-size="26.5" stroke="#000" stroke-width="0.15" transform="translate(48.70,37.40) scale(0.855,1.0)">0</text><text x="0" y="0" font-size="26.5" stroke="#000" stroke-width="0.15" transform="translate(61.90,37.40) scale(0.855,1.0)">0</text><text x="0" y="0" font-size="26.5" stroke="#000" stroke-width="0.15" transform="translate(75.10,37.40) scale(0.855,1.0)">0</text>
<text x="0" y="0" font-size="26" stroke="#000" stroke-width="0.15" transform="translate(399.39,603.80) scale(1.000,1.0)">I</text><text x="0" y="0" font-size="26" stroke="#000" stroke-width="0.15" transform="translate(409.74,603.80) scale(0.964,1.0)">c</text><text x="0" y="0" font-size="26" stroke="#000" stroke-width="0.15" transform="translate(422.79,603.80) scale(0.918,1.0)">e</text><text x="0" y="0" font-size="26" stroke="#000" stroke-width="0.15" transform="translate(449.97,603.80) scale(0.736,1.0)">T</text><text x="0" y="0" font-size="26" stroke="#000" stroke-width="0.15" transform="translate(462.87,603.80) scale(0.842,1.0)">h</text><text x="0" y="0" font-size="26" stroke="#000" stroke-width="0.15" transform="translate(479.31,603.80) scale(1.000,1.0)">i</text><text x="0" y="0" font-size="26" stroke="#000" stroke-width="0.15" transform="translate(488.94,603.80) scale(0.964,1.0)">c</text><text x="0" y="0" font-size="26" stroke="#000" stroke-width="0.15" transform="translate(501.69,603.80) scale(0.936,1.0)">k</text><text x="0" y="0" font-size="26" stroke="#000" stroke-width="0.15" transform="translate(515.14,603.80) scale(0.920,1.0)">n</text><text x="0" y="0" font-size="26" stroke="#000" stroke-width="0.15" transform="translate(528.39,603.80) scale(0.918,1.0)">e</text><text x="0" y="0" font-size="26" stroke="#000" stroke-width="0.15" transform="translate(542.39,603.80) scale(0.908,1.0)">s</text><text x="0" y="0" font-size="26" stroke="#000" stroke-width="0.15" transform="translate(555.59,603.80) scale(0.908,1.0)">s</text><text x="0" y="0" font-size="26" stroke="#000" stroke-width="0.15" transform="translate(585.60,601.00) scale(1.000,0.876)">(</text><text x="0" y="0" font-size="26" stroke="#000" stroke-width="0.15" transform="translate(594.26,603.80) scale(0.623,1.0)">m</text><text x="0" y="0" font-size="26" stroke="#000" stroke-width="0.15" transform="translate(607.46,603.80) scale(0.623,1.0)">m</text><text x="0" y="0" font-size="26" stroke="#000" stroke-width="0.15" transform="translate(622.67,601.00) scale(0.862,0.876)">)</text>
<g transform="translate(22.9,275.2) rotate(-90)"><text x="0" y="0" font-size="26" stroke="#000" stroke-width="0.15" transform="translate(-98.23,0.00) scale(0.736,1.0)">T</text><text x="0" y="0" font-size="26" stroke="#000" stroke-width="0.15" transform="translate(-85.26,0.00) scale(0.839,1.0)">o</text><text x="0" y="0" font-size="26" stroke="#000" stroke-width="0.15" transform="translate(-70.46,0.00) scale(1.200,1.0)">t</text><text x="0" y="0" font-size="26" stroke="#000" stroke-width="0.15" transform="translate(-58.94,0.00) scale(0.790,1.0)">a</text><text x="0" y="0" font-size="26" stroke="#000" stroke-width="0.15" transform="translate(-42.49,0.00) scale(1.000,1.0)">l</text><text x="0" y="0" font-size="26" stroke="#000" stroke-width="0.15" transform="translate(-19.94,0.00) scale(0.685,1.0)">R</text><text x="0" y="0" font-size="26" stroke="#000" stroke-width="0.15" transform="translate(-2.89,0.00) scale(1.000,1.0)">i</text><text x="0" y="0" font-size="26" stroke="#000" stroke-width="0.15" transform="translate(7.39,0.00) scale(0.908,1.0)">s</text><text x="0" y="0" font-size="26" stroke="#000" stroke-width="0.15" transform="translate(19.49,0.00) scale(0.936,1.0)">k</text><text x="0" y="0" font-size="26" stroke="#000" stroke-width="0.15" transform="translate(50.60,-2.80) scale(1.000,0.876)">(</text><text x="0" y="0" font-size="26" stroke="#000" stroke-width="0.15" transform="translate(58.93,0.00) scale(0.653,1.0)">M</text><text x="0" y="0" font-size="26" stroke="#000" stroke-width="0.15" transform="translate(72.44,0.00) scale(0.550,1.0)">W</text><text x="0" y="0" font-size="26" stroke="#000" stroke-width="0.15" transform="translate(87.67,-2.80) scale(0.862,0.876)">)</text></g>
<rect x="110.8" y="13.8" width="162.40" height="81.10" rx="4" ry="4" fill="#fff" fill-opacity="0.8" stroke="#cccccc" stroke-opacity="0.8" stroke-width="1.667"/>
<line x1="115.6" y1="28.50" x2="158.9" y2="28.50" stroke="#1f77b4" stroke-width="5.5"/>
<text x="0" y="0" font-size="18.1" stroke="#000" stroke-width="0.25" transform="translate(171.04,34.70) scale(0.747,1.0)">H</text><text x="0" y="0" font-size="18.1" stroke="#000" stroke-width="0.25" transform="translate(180.75,34.70) scale(0.991,1.0)">c</text><text x="0" y="0" font-size="18.1" stroke="#000" stroke-width="0.25" transform="translate(190.95,34.70) scale(1.120,1.0)">r</text><text x="0" y="0" font-size="18.1" stroke="#000" stroke-width="0.25" transform="translate(202.27,34.70) scale(1.000,1.0)">i</text><text x="0" y="0" font-size="18.1" stroke="#000" stroke-width="0.25" transform="translate(210.62,34.70) scale(1.200,1.0)">t</text><text x="0" y="0" font-size="18.1" stroke="#000" stroke-width="0.25" transform="translate(218.92,34.70) scale(0.806,1.0)">=</text><text x="0" y="0" font-size="18.1" stroke="#000" stroke-width="0.25" transform="translate(229.05,34.70) scale(0.678,1.0)">1</text><text x="0" y="0" font-size="18.1" stroke="#000" stroke-width="0.25" transform="translate(237.57,34.70) scale(0.896,1.0)">0</text><text x="0" y="0" font-size="18.1" stroke="#000" stroke-width="0.25" transform="translate(246.70,34.70) scale(0.641,1.0)">m</text><text x="0" y="0" font-size="18.1" stroke="#000" stroke-width="0.25" transform="translate(256.15,34.70) scale(0.641,1.0)">m</text>
<line x1="115.6" y1="54.05" x2="158.9" y2="54.05" stroke="#ff7f0e" stroke-width="5.5"/>
<text x="0" y="0" font-size="18.1" stroke="#000" stroke-width="0.25" transform="translate(171.04,59.90) scale(0.747,1.0)">H</text><text x="0" y="0" font-size="18.1" stroke="#000" stroke-width="0.25" transform="translate(180.75,59.90) scale(0.991,1.0)">c</text><text x="0" y="0" font-size="18.1" stroke="#000" stroke-width="0.25" transform="translate(190.95,59.90) scale(1.120,1.0)">r</text><text x="0" y="0" font-size="18.1" stroke="#000" stroke-width="0.25" transform="translate(202.27,59.90) scale(1.000,1.0)">i</text><text x="0" y="0" font-size="18.1" stroke="#000" stroke-width="0.25" transform="translate(210.62,59.90) scale(1.200,1.0)">t</text><text x="0" y="0" font-size="18.1" stroke="#000" stroke-width="0.25" transform="translate(218.92,59.90) scale(0.806,1.0)">=</text><text x="0" y="0" font-size="18.1" stroke="#000" stroke-width="0.25" transform="translate(228.02,59.90) scale(0.916,1.0)">2</text><text x="0" y="0" font-size="18.1" stroke="#000" stroke-width="0.25" transform="translate(237.57,59.90) scale(0.896,1.0)">0</text><text x="0" y="0" font-size="18.1" stroke="#000" stroke-width="0.25" transform="translate(246.70,59.90) scale(0.641,1.0)">m</text><text x="0" y="0" font-size="18.1" stroke="#000" stroke-width="0.25" transform="translate(256.15,59.90) scale(0.641,1.0)">m</text>
<line x1="115.6" y1="79.60" x2="158.9" y2="79.60" stroke="#2ca02c" stroke-width="5.5"/>
<text x="0" y="0" font-size="18.1" stroke="#000" stroke-width="0.25" transform="translate(171.04,85.10) scale(0.747,1.0)">H</text><text x="0" y="0" font-size="18.1" stroke="#000" stroke-width="0.25" transform="translate(180.75,85.10) scale(0.991,1.0)">c</text><text x="0" y="0" font-size="18.1" stroke="#000" stroke-width="0.25" transform="translate(190.95,85.10) scale(1.120,1.0)">r</text><text x="0" y="0" font-size="18.1" stroke="#000" stroke-width="0.25" transform="translate(202.27,85.10) scale(1.000,1.0)">i</text><text x="0" y="0" font-size="18.1" stroke="#000" stroke-width="0.25" transform="translate(210.62,85.10) scale(1.200,1.0)">t</text><text x="0" y="0" font-size="18.1" stroke="#000" stroke-width="0.25" transform="translate(218.92,85.10) scale(0.806,1.0)">=</text><text x="0" y="0" font-size="18.1" stroke="#000" stroke-width="0.25" transform="translate(228.35,85.10) scale(0.859,1.0)">3</text><text x="0" y="0" font-size="18.1" stroke="#000" stroke-width="0.25" transform="translate(237.57,85.10) scale(0.896,1.0)">0</text><text x="0" y="0" font-size="18.1" stroke="#000" stroke-width="0.25" transform="translate(246.70,85.10) scale(0.641,1.0)">m</text><text x="0" y="0" font-size="18.1" stroke="#000" stroke-width="0.25" transform="translate(256.15,85.10) scale(0.641,1.0)">m</text>
</svg></body></html>
